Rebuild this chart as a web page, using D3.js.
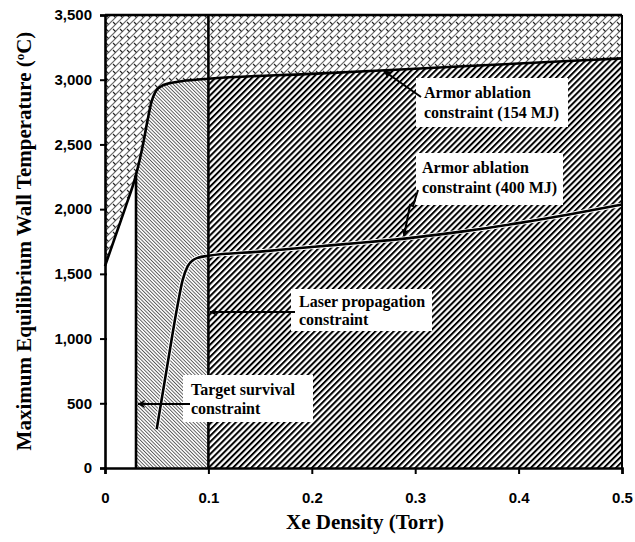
<!DOCTYPE html>
<html><head><meta charset="utf-8">
<script src="https://cdn.jsdelivr.net/npm/d3@7"></script>
<style>
body{margin:0;background:#fff;}
svg{display:block;}
.tick text{font-family:"Liberation Sans",Arial,sans-serif;font-weight:bold;font-size:15px;fill:#000;}
.ann{font-family:"Liberation Serif","Times New Roman",serif;font-weight:bold;font-size:16px;fill:#000;}
.title{font-family:"Liberation Serif","Times New Roman",serif;font-weight:bold;font-size:21px;fill:#000;}
</style></head>
<body>
<script>
// ---- data ----
const xTicks = [0, 0.1, 0.2, 0.3, 0.4, 0.5];
const yTicks = [0, 500, 1000, 1500, 2000, 2500, 3000, 3500];
const armor154X = [0, 0.01, 0.02, 0.03, 0.036, 0.041, 0.045, 0.049, 0.054, 0.062, 0.075, 0.1, 0.2, 0.3, 0.4, 0.5];
const armor154Y = [1560, 1790, 2020, 2265, 2470, 2680, 2830, 2910, 2948, 2972, 2990, 3008, 3045, 3085, 3125, 3165];
const armor400X = [0.05, 0.06, 0.07, 0.075, 0.08, 0.085, 0.09, 0.1, 0.15, 0.2, 0.25, 0.3, 0.35, 0.4, 0.45, 0.5];
const armor400Y = [300, 780, 1250, 1450, 1560, 1605, 1625, 1640, 1672, 1708, 1742, 1782, 1832, 1892, 1960, 2035];
const targetSurvivalX = 0.03;
const laserPropX = 0.1;
const annotations = [
  {lines:["Armor ablation","constraint (154 MJ)"]},
  {lines:["Armor ablation","constraint (400 MJ)"]},
  {lines:["Laser propagation","constraint"]},
  {lines:["Target survival","constraint"]}
];

const W = 635, H = 542;
const m = {left:105, right:13, top:15, bottom:74};
const svg = d3.select("body").append("svg").attr("width", W).attr("height", H);
const x = d3.scaleLinear().domain([0, 0.5]).range([m.left, W - m.right]);
const y = d3.scaleLinear().domain([0, 3500]).range([H - m.bottom, m.top]);

const defs = svg.append("defs");
// crosshatch (weave-like)
const p1 = defs.append("pattern").attr("id","cross").attr("patternUnits","userSpaceOnUse")
  .attr("width",7).attr("height",7);
p1.append("rect").attr("width",7).attr("height",7).attr("fill","#fff");
p1.append("path").attr("d","M0,7L7,0M-1,1L1,-1M6,8L8,6").attr("stroke","#666").attr("stroke-width",1.2);
p1.append("path").attr("d","M1,1L3.5,3.5").attr("stroke","#222").attr("stroke-width",1.1);
// fine hatch "\"
const p2 = defs.append("pattern").attr("id","fine").attr("patternUnits","userSpaceOnUse")
  .attr("width",2.5).attr("height",8).attr("patternTransform","rotate(-45)");
p2.append("rect").attr("width",2.5).attr("height",8).attr("fill","#fff");
p2.append("rect").attr("width",0.9).attr("height",8).attr("fill","#555");
// thick hatch "/"
const p3 = defs.append("pattern").attr("id","thick").attr("patternUnits","userSpaceOnUse")
  .attr("width",4.3).attr("height",8).attr("patternTransform","rotate(45)");
p3.append("rect").attr("width",4.3).attr("height",8).attr("fill","#fff");
p3.append("rect").attr("width",2).attr("height",8).attr("fill","#000");

const c154 = armor154X.map((v,i)=>[v, armor154Y[i]]);
const c400 = armor400X.map((v,i)=>[v, armor400Y[i]]);
const curve = d3.curveMonotoneX;
function at154(xv){
  for(let i=1;i<c154.length;i++){
    if(xv<=c154[i][0]){const a=c154[i-1],b=c154[i];return a[1]+(b[1]-a[1])*(xv-a[0])/(b[0]-a[0]);}
  }
  return c154[c154.length-1][1];
}
const area = d3.area().x(d=>x(d[0])).curve(curve);

svg.append("path").attr("fill","url(#cross)")
  .attr("d", area.y0(y(3500)).y1(d=>y(d[1]))(c154));
const segB = c154.filter(d=>d[0]>=targetSurvivalX && d[0]<=laserPropX);
svg.append("path").attr("fill","url(#fine)")
  .attr("d", area.y0(y(0)).y1(d=>y(d[1]))(segB));
const segC = c154.filter(d=>d[0]>=laserPropX);
svg.append("path").attr("fill","url(#thick)")
  .attr("d", area.y0(y(0)).y1(d=>y(d[1]))(segC));

const line = d3.line().x(d=>x(d[0])).y(d=>y(d[1])).curve(curve);
svg.append("path").attr("d", line(c154)).attr("fill","none").attr("stroke","#000").attr("stroke-width",2.6);
svg.append("path").attr("d", line(c400)).attr("fill","none").attr("stroke","#fff").attr("stroke-width",4.5);
svg.append("path").attr("d", line(c400)).attr("fill","none").attr("stroke","#000").attr("stroke-width",2.6);

svg.append("line").attr("x1",x(targetSurvivalX)).attr("x2",x(targetSurvivalX))
  .attr("y1",y(0)).attr("y2",y(at154(targetSurvivalX))).attr("stroke","#000").attr("stroke-width",2.6);
svg.append("line").attr("x1",x(laserPropX)).attr("x2",x(laserPropX))
  .attr("y1",y(0)).attr("y2",y(3500)).attr("stroke","#000").attr("stroke-width",2.6);

svg.append("line").attr("x1",x(0)).attr("x2",x(0.5)).attr("y1",y(3500)).attr("y2",y(3500)).attr("stroke","#000").attr("stroke-width",2.5);
svg.append("line").attr("x1",x(0.5)).attr("x2",x(0.5)).attr("y1",y(0)).attr("y2",y(3500)).attr("stroke","#000").attr("stroke-width",2);

const yAx = svg.append("g").attr("transform",`translate(${x(0)},0)`)
  .call(d3.axisLeft(y).tickValues(yTicks).tickFormat(d3.format(",")).tickSize(5).tickPadding(8));
yAx.selectAll(".tick line").attr("x2",-5).attr("x1",2).attr("stroke-width",2);
const xAx = svg.append("g").attr("transform",`translate(0,${y(0)})`)
  .call(d3.axisBottom(x).tickValues(xTicks).tickFormat(d=>d===0?"0":d3.format(".1f")(d)).tickSize(6).tickPadding(18));
xAx.selectAll(".tick line").attr("stroke-width",2);
svg.selectAll(".domain").attr("stroke-width",2.6);

const boxes = [
  {x0:416,y0:78,x1:568,y1:127, tx:424, ty:[98,118]},
  {x0:416,y0:153,x1:563,y1:205, tx:422, ty:[173,193]},
  {x0:291,y0:289,x1:432,y1:331, tx:299, ty:[307,325]},
  {x0:183,y0:375,x1:313,y1:422, tx:191, ty:[395,414]}
];
annotations.forEach((a,i)=>{
  const b = boxes[i];
  svg.append("rect").attr("x",b.x0).attr("y",b.y0).attr("width",b.x1-b.x0).attr("height",b.y1-b.y0).attr("fill","#fff");
  a.lines.forEach((t,j)=>svg.append("text").attr("class","ann").attr("x",b.tx).attr("y",b.ty[j]).text(t));
});

defs.append("marker").attr("id","arr").attr("viewBox","0 0 10 10").attr("refX",9).attr("refY",5)
  .attr("markerWidth",4).attr("markerHeight",4).attr("orient","auto")
  .append("path").attr("d","M0,0L10,5L0,10L3,5Z").attr("fill","#000");
const arrows = [
  "M421,97L384,71",
  "M418,190L413,206L410,205L404,236",
  "M295,312L210,312",
  "M190,404L138,404"
];
arrows.forEach(d=>svg.append("path").attr("d",d).attr("fill","none").attr("stroke","#000")
  .attr("stroke-width",2).attr("marker-end","url(#arr)"));

svg.append("text").attr("class","title").attr("x",365).attr("y",529).attr("text-anchor","middle").text("Xe Density (Torr)");
const yl = svg.append("text").attr("class","title").attr("text-anchor","middle")
  .attr("transform","translate(31,241) rotate(-90)");
yl.append("tspan").text("Maximum Equilibrium Wall Temperature (");
yl.append("tspan").attr("font-size","13px").attr("dy",-7).text("o");
yl.append("tspan").attr("dy",7).text("C)");
</script>
</body></html>
